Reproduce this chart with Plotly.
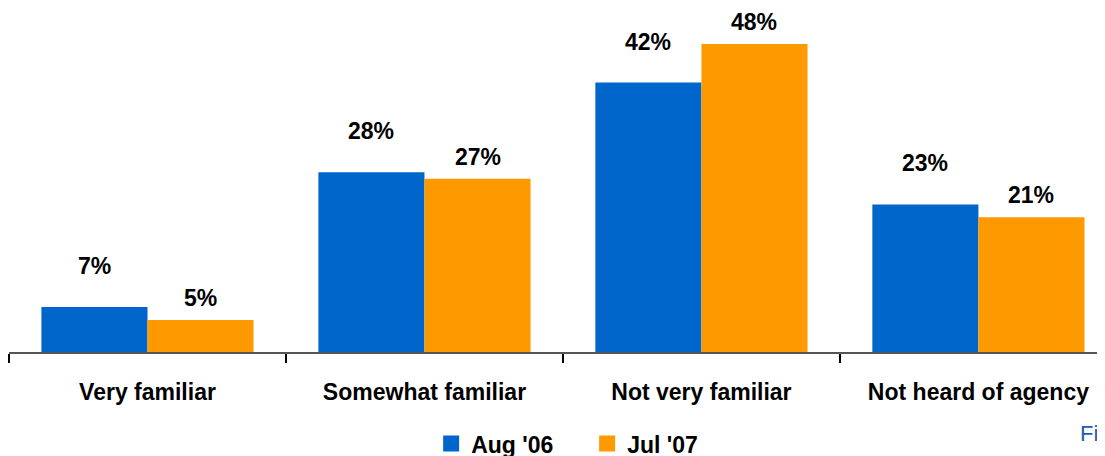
import plotly.graph_objects as go

categories = ["Very familiar", "Somewhat familiar", "Not very familiar", "Not heard of agency"]
aug06 = [7, 28, 42, 23]
jul07 = [5, 27, 48, 21]
series_names = ["Aug '06", "Jul '07"]

BLUE = "#0066CC"
ORANGE = "#FF9900"
FONT = "Liberation Sans, Arial, sans-serif"
BARGAP = 0.234
FS = 23

fig = go.Figure()
fig.add_trace(go.Bar(x=categories, y=aug06, name=series_names[0], marker_color=BLUE,
                     marker_line_width=0, showlegend=False))
fig.add_trace(go.Bar(x=categories, y=jul07, name=series_names[1], marker_color=ORANGE,
                     marker_line_width=0, showlegend=False))

# legend entries with bigger squares
for name, col in zip(series_names, [BLUE, ORANGE]):
    fig.add_trace(go.Scatter(x=[None], y=[None], mode="markers", name=f"<b>{name}</b>",
                             marker=dict(symbol="square", size=16, color=col)))

# value labels: blue ones sit higher above their bars than orange ones
off = (1 - BARGAP) / 4
for i, (a, j) in enumerate(zip(aug06, jul07)):
    fig.add_annotation(x=i - off, y=a, text=f"<b>{a}%</b>", showarrow=False,
                       yanchor="middle", yshift=41, font=dict(size=FS, color="black"))
    fig.add_annotation(x=i + off, y=j, text=f"<b>{j}%</b>", showarrow=False,
                       yanchor="middle", yshift=22, font=dict(size=FS, color="black"))

# cut-off caption at bottom right
fig.add_annotation(x=0.975, y=-0.237, xref="paper", yref="paper", text="Figure",
                   showarrow=False, xanchor="left", yanchor="middle",
                   font=dict(size=22, color="#1a5fb4"))

# the page body adds an 8px margin, so the figure is 8px smaller than the window
fig.update_layout(
    width=1097, height=448,
    margin=dict(l=1, r=0, t=2, b=104, autoexpand=False),
    paper_bgcolor="white", plot_bgcolor="white",
    font=dict(family=FONT, size=FS, color="black"),
    barmode="group", bargap=BARGAP, bargroupgap=0,
    showlegend=True,
    legend=dict(orientation="h", x=0.5275, xanchor="center", y=-0.205, yanchor="top",
                font=dict(size=FS), itemwidth=30, entrywidth=111,
                bgcolor="rgba(0,0,0,0)"),
    xaxis=dict(
        type="category", range=[-0.5, 3.457], automargin=False,
        showline=True, linecolor="#555555", linewidth=1.5,
        ticks="outside", tickson="boundaries", ticklen=9, tickcolor="black", tickwidth=1.5,
        tickfont=dict(size=FS), ticklabelstandoff=19,
        tickvals=categories, ticktext=[f"<b>{c}</b>" for c in categories],
        showgrid=False, zeroline=False,
    ),
    yaxis=dict(range=[0, 53.3], visible=False, showgrid=False, zeroline=False),
)

fig.write_html("out.html")
